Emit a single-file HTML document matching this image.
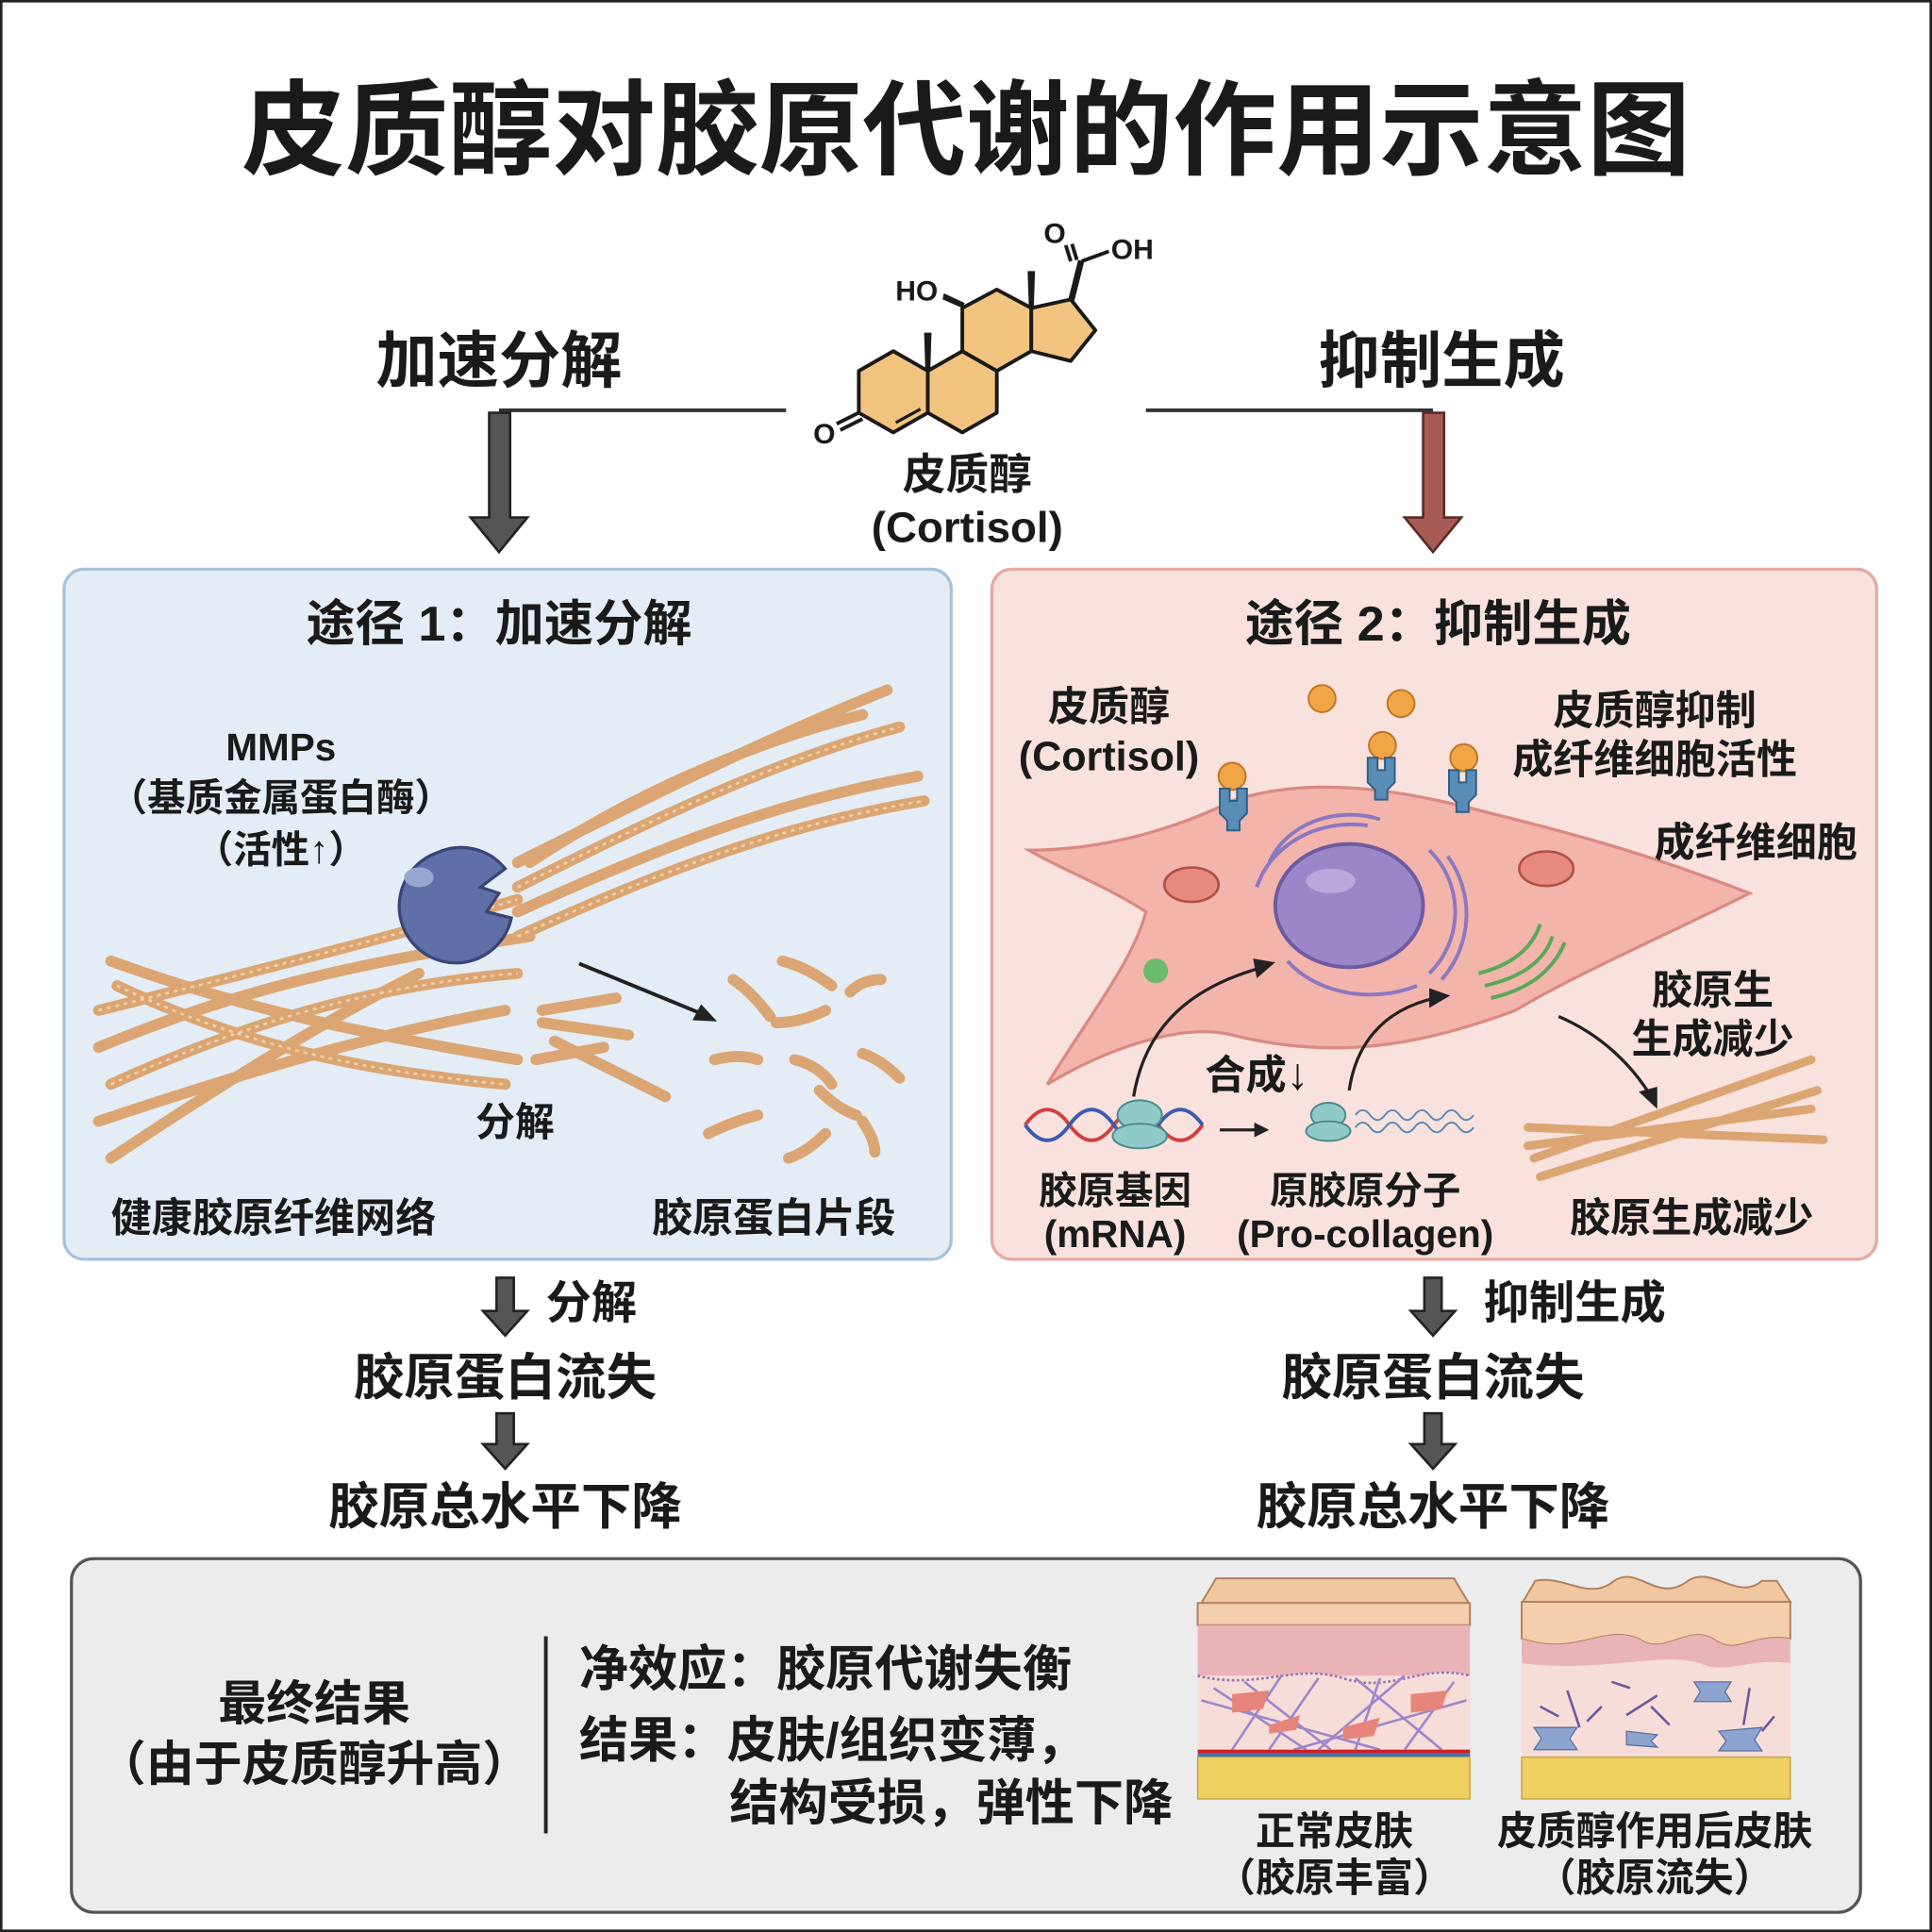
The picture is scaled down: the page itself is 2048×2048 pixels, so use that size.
<!DOCTYPE html>
<html><head><meta charset="utf-8"><style>
html,body{margin:0;padding:0;background:#fff}
svg{display:block}
text{font-family:"Liberation Sans","Noto Sans CJK SC",sans-serif;font-weight:bold;fill:#1a1a1a}
</style></head><body>
<svg width="2048" height="2048" viewBox="0 0 1568 1568" xmlns="http://www.w3.org/2000/svg">
<rect x="1" y="1" width="1566" height="1566" fill="#fff" stroke="#222" stroke-width="2"/>
<text x="784" y="135" font-size="84" text-anchor="middle">皮质醇对胶原代谢的作用示意图</text>

<!-- molecule -->
<g stroke="#1a1a1a" stroke-width="3" fill="#f3c47f" stroke-linejoin="round">
<polygon points="725,285 753,301 753,335 725,351 697,335 697,301"/>
<polygon points="781,285 809,301 809,335 781,351 753,335 753,301"/>
<polygon points="781,250 809,235 837,250 837,285 809,301 781,285"/>
<polygon points="837,250 869,243 889,268 869,293 837,285"/>
<line x1="697" y1="335" x2="679" y2="344"/><line x1="700" y1="340" x2="682" y2="349"/>
<line x1="727" y1="343" x2="747" y2="332" stroke-width="2.5"/>
<line x1="869" y1="212" x2="865" y2="199"/><line x1="874" y1="211" x2="870" y2="198"/>
<line x1="878" y1="212" x2="900" y2="204"/>
</g>
<g fill="#1a1a1a">
<polygon points="751,301 755,301 756,270 750,270"/>
<polygon points="835,250 839,250 840,220 834,220"/>
<polygon points="781,250 783,246 766,238 765,243"/>
<polygon points="867,243 872,244 880,212 875,211"/>
</g>
<text x="744" y="244" font-size="23" text-anchor="middle">HO</text>
<text x="856" y="197" font-size="23" text-anchor="middle">O</text>
<text x="919" y="210" font-size="23" text-anchor="middle">OH</text>
<text x="669" y="360" font-size="23" text-anchor="middle">O</text>
<text x="785" y="397" font-size="35" text-anchor="middle">皮质醇</text>
<text x="785" y="440" font-size="35" text-anchor="middle">(Cortisol)</text>

<text x="405" y="310" font-size="50" text-anchor="middle">加速分解</text>
<text x="1170" y="310" font-size="50" text-anchor="middle">抑制生成</text>
<path d="M638,333 H405" stroke="#333" stroke-width="3" fill="none"/>
<path d="M930,333 H1163" stroke="#333" stroke-width="3" fill="none"/>
<polygon points="397,335 414,335 414,420 428,420 405,448 382,420 397,420" fill="#555" stroke="#222" stroke-width="2"/>
<polygon points="1155,335 1172,335 1172,420 1186,420 1163,448 1140,420 1155,420" fill="#a85a55" stroke="#5a2a28" stroke-width="2"/>

<!-- left panel -->
<rect x="52" y="462" width="720" height="560" rx="16" fill="#e4edf6" stroke="#a8c2dc" stroke-width="2.5"/>
<text x="405" y="520" font-size="40" text-anchor="middle">途径 1：加速分解</text>
<g stroke="#dba673" stroke-width="9" fill="none" stroke-linecap="round">
<path d="M80,820 C200,790 320,760 420,730"/>
<path d="M80,850 C200,800 300,780 430,760"/>
<path d="M90,880 C200,830 300,800 420,790"/>
<path d="M80,910 C200,870 300,840 410,820"/>
<path d="M90,780 C200,820 300,840 420,860"/>
<path d="M95,800 C200,850 300,870 410,880"/>
<path d="M90,940 C180,880 260,830 340,790"/>
<path d="M420,700 C520,650 620,600 720,560"/>
<path d="M420,720 C520,670 620,620 730,590"/>
<path d="M420,740 C530,690 630,650 745,630"/>
<path d="M420,760 C530,710 630,670 750,650"/>
<path d="M430,700 C520,640 620,600 700,580"/>
<path d="M440,820 L500,810"/><path d="M440,830 L510,840"/>
<path d="M435,860 L490,850"/><path d="M450,845 L540,890"/>
</g>
<g stroke="#f2d2a8" stroke-width="2" fill="none" stroke-dasharray="3 4">
<path d="M80,820 C200,790 320,760 420,730"/><path d="M90,880 C200,830 300,800 420,790"/>
<path d="M95,800 C200,850 300,870 410,880"/><path d="M420,720 C520,670 620,620 730,590"/>
<path d="M420,760 C530,710 630,670 750,650"/>
</g>
<g stroke="#dba673" stroke-width="9" fill="none" stroke-linecap="round">
<path d="M595,795 q15,10 30,30"/><path d="M635,780 q20,5 40,20"/><path d="M690,805 q10,-10 25,-10"/>
<path d="M630,830 q20,0 40,-10"/><path d="M580,860 q20,-5 35,0"/><path d="M645,860 q20,5 30,20"/>
<path d="M700,855 q15,5 30,20"/><path d="M575,920 q20,-10 40,-15"/><path d="M665,885 q15,15 30,20"/>
<path d="M640,940 q15,-5 30,-20"/><path d="M700,910 q10,15 10,25"/>
</g>
<path d="M470,782 L575,825" stroke="#222" stroke-width="3"/>
<polygon points="582,829 562,828 569,815" fill="#222"/>
<path d="M355,692 A46,46 0 1,0 415,745 L395,740 L405,725 L390,720 L410,705 A46,46 0 0,0 355,692 Z" fill="#5f6fa8" stroke="#3a4575" stroke-width="2.5"/>
<ellipse cx="340" cy="712" rx="12" ry="8" fill="#9aa6d2"/>
<text x="228" y="617" font-size="31" text-anchor="middle">MMPs</text>
<text x="228" y="658" font-size="31" text-anchor="middle">（基质金属蛋白酶）</text>
<text x="228" y="700" font-size="31" text-anchor="middle">（活性↑）</text>
<text x="418" y="922" font-size="32" text-anchor="middle">分解</text>
<text x="222" y="1000" font-size="33" text-anchor="middle">健康胶原纤维网络</text>
<text x="628" y="1000" font-size="33" text-anchor="middle">胶原蛋白片段</text>

<!-- right panel -->
<rect x="805" y="462" width="718" height="560" rx="16" fill="#f9e2dd" stroke="#e6a9a3" stroke-width="2.5"/>
<text x="1167" y="520" font-size="40" text-anchor="middle">途径 2：抑制生成</text>
<path d="M835,690 C900,690 960,670 1000,650 C1060,630 1130,640 1190,655 C1270,675 1330,690 1420,725 C1350,760 1280,790 1230,820 C1150,850 1080,860 1000,840 C960,830 900,850 850,880 C880,830 920,780 930,740 C900,720 860,705 835,690 Z" fill="#f2b4ab" stroke="#d98a82" stroke-width="2.5"/>
<ellipse cx="1095" cy="735" rx="60" ry="50" fill="#9a86c9" stroke="#6e5aa2" stroke-width="3"/>
<ellipse cx="1080" cy="715" rx="20" ry="10" fill="#b9a9dc"/>
<g stroke="#8a78c0" stroke-width="3" fill="none">
<path d="M1020,720 A80,70 0 0,1 1110,670"/><path d="M1030,700 A70,60 0 0,1 1120,665"/>
<path d="M1160,690 A70,70 0 0,1 1160,790"/><path d="M1175,695 A80,80 0 0,1 1170,795"/>
<path d="M1045,780 A80,60 0 0,0 1150,800"/>
</g>
<ellipse cx="967" cy="718" rx="22" ry="14" fill="#e88a80" stroke="#b0504a" stroke-width="2"/>
<ellipse cx="1255" cy="705" rx="22" ry="14" fill="#e88a80" stroke="#b0504a" stroke-width="2"/>
<g stroke="#5aa85a" stroke-width="3" fill="none"><path d="M1200,790 q40,-10 50,-40"/><path d="M1205,800 q45,-10 55,-40"/><path d="M1210,810 q45,-10 60,-45"/></g>
<circle cx="938" cy="788" r="10" fill="#6cba6c"/>
<g fill="#f2a547" stroke="#c07520" stroke-width="1.5">
<circle cx="1073" cy="567" r="11"/><circle cx="1137" cy="571" r="11"/>
<circle cx="1000" cy="630" r="11"/><circle cx="1122" cy="605" r="11"/><circle cx="1188" cy="615" r="11"/>
</g>
<g fill="#5a8db5" stroke="#2e5e82" stroke-width="1.5">
<path d="M990,640 h8 v10 h6 v-10 h8 v20 l-6,6 v8 h-10 v-8 l-6,-6z"/>
<path d="M1110,615 h8 v10 h6 v-10 h8 v20 l-6,6 v8 h-10 v-8 l-6,-6z"/>
<path d="M1176,625 h8 v10 h6 v-10 h8 v20 l-6,6 v8 h-10 v-8 l-6,-6z"/>
</g>
<g stroke="#222" stroke-width="2.5" fill="none">
<path d="M920,890 C930,830 970,800 1025,785"/><path d="M1095,885 C1100,850 1120,820 1165,810"/>
<path d="M1265,825 C1300,840 1325,865 1340,890"/>
</g>
<polygon points="1035,781 1020,794 1017,778" fill="#222"/>
<polygon points="1177,808 1160,818 1160,802" fill="#222"/>
<polygon points="1345,900 1330,886 1345,882" fill="#222"/>
<g stroke-width="3" fill="none">
<path d="M832,913 q18,-25 36,0 t36,0 t36,0 t36,0" stroke="#d04040"/>
<path d="M832,913 q18,25 36,0 t36,0 t36,0 t36,0" stroke="#3a5ab0"/>
<path d="M1100,905 q6,-8 12,0 t12,0 t12,0 t12,0 t12,0 t12,0 t12,0 t12,0" stroke="#5a8ab5" stroke-width="1.5"/>
<path d="M1100,915 q6,-8 12,0 t12,0 t12,0 t12,0 t12,0 t12,0 t12,0 t12,0" stroke="#5a8ab5" stroke-width="1.5"/>
</g>
<ellipse cx="925" cy="905" rx="18" ry="12" fill="#8fcac8" stroke="#4a8a8a" stroke-width="1.5"/>
<ellipse cx="925" cy="922" rx="22" ry="10" fill="#8fcac8" stroke="#4a8a8a" stroke-width="1.5"/>
<ellipse cx="1078" cy="905" rx="14" ry="10" fill="#8fcac8" stroke="#4a8a8a" stroke-width="1.5"/>
<ellipse cx="1078" cy="918" rx="18" ry="8" fill="#8fcac8" stroke="#4a8a8a" stroke-width="1.5"/>
<path d="M990,917 H1020" stroke="#222" stroke-width="2.5"/><polygon points="1030,917 1018,911 1018,923" fill="#222"/>
<g stroke="#dba673" stroke-width="7" fill="none" stroke-linecap="round">
<path d="M1240,915 L1480,925"/><path d="M1245,940 L1470,860"/><path d="M1250,955 L1475,885"/><path d="M1240,930 L1470,900"/>
</g>
<text x="900" y="585" font-size="33" text-anchor="middle">皮质醇</text>
<text x="900" y="625" font-size="33" text-anchor="middle">(Cortisol)</text>
<text x="1343" y="588" font-size="33" text-anchor="middle">皮质醇抑制</text>
<text x="1343" y="628" font-size="33" text-anchor="middle">成纤维细胞活性</text>
<text x="1425" y="695" font-size="33" text-anchor="middle">成纤维细胞</text>
<text x="1390" y="815" font-size="33" text-anchor="middle">胶原生</text>
<text x="1390" y="855" font-size="33" text-anchor="middle">生成减少</text>
<text x="1020" y="884" font-size="33" text-anchor="middle">合成<tspan font-size="36">↓</tspan></text>
<text x="905" y="977" font-size="31" text-anchor="middle">胶原基因</text>
<text x="905" y="1012" font-size="31" text-anchor="middle">(mRNA)</text>
<text x="1108" y="977" font-size="31" text-anchor="middle">原胶原分子</text>
<text x="1108" y="1012" font-size="31" text-anchor="middle">(Pro-collagen)</text>
<text x="1373" y="1000" font-size="33" text-anchor="middle">胶原生成减少</text>

<!-- flows -->
<g fill="#555" stroke="#222" stroke-width="2">
<polygon points="403,1037 417,1037 417,1064 428,1064 410,1084 392,1064 403,1064"/>
<polygon points="403,1147 417,1147 417,1172 428,1172 410,1192 392,1172 403,1172"/>
<polygon points="1156,1037 1170,1037 1170,1064 1181,1064 1163,1084 1145,1064 1156,1064"/>
<polygon points="1156,1147 1170,1147 1170,1172 1181,1172 1163,1192 1145,1172 1156,1172"/>
</g>
<text x="480" y="1070" font-size="37" text-anchor="middle">分解</text>
<text x="1278" y="1070" font-size="37" text-anchor="middle">抑制生成</text>
<text x="410" y="1132" font-size="41" text-anchor="middle">胶原蛋白流失</text>
<text x="410" y="1237" font-size="41" text-anchor="middle">胶原总水平下降</text>
<text x="1163" y="1132" font-size="41" text-anchor="middle">胶原蛋白流失</text>
<text x="1163" y="1237" font-size="41" text-anchor="middle">胶原总水平下降</text>

<!-- bottom box -->
<rect x="58" y="1265" width="1452" height="287" rx="18" fill="#ececec" stroke="#555" stroke-width="2.5"/>
<text x="255" y="1396" font-size="39" text-anchor="middle">最终结果</text>
<text x="255" y="1445" font-size="39" text-anchor="middle">（由于皮质醇升高）</text>
<line x1="443" y1="1328" x2="443" y2="1488" stroke="#222" stroke-width="3"/>
<text x="470" y="1368" font-size="40">净效应：胶原代谢失衡</text>
<text x="470" y="1426" font-size="40">结果：皮肤/组织变薄，</text>
<text x="592" y="1477" font-size="40">结构受损，弹性下降</text>

<!-- normal skin -->
<polygon points="975,1301 987,1281 1180,1281 1192,1301" fill="#f0c7a0" stroke="#b08060" stroke-width="1.5"/>
<rect x="972" y="1301" width="221" height="18" fill="#f3cfae" stroke="#b08060" stroke-width="1.5"/>
<path d="M972,1319 H1193 V1360 C1150,1350 1130,1375 1090,1362 C1050,1350 1020,1372 972,1360Z" fill="#eab3b8"/>
<rect x="972" y="1360" width="221" height="62" fill="#f7ddd8"/>
<path d="M972,1360 C1020,1372 1050,1350 1090,1362 C1130,1375 1150,1350 1193,1360" stroke="#9a70b0" stroke-width="2" fill="none" stroke-dasharray="2 2"/>
<g stroke="#9d86cc" stroke-width="2" fill="none">
<path d="M985,1370 L1060,1420"/><path d="M1010,1365 L1080,1420"/><path d="M1040,1360 L1000,1420"/><path d="M1070,1362 L1030,1420"/>
<path d="M1100,1362 L1170,1420"/><path d="M1120,1362 L1100,1420"/><path d="M1140,1360 L1070,1420"/><path d="M1180,1365 L1140,1420"/>
<path d="M975,1380 L1120,1420"/><path d="M1190,1380 L1050,1420"/>
</g>
<g fill="#e7857a"><path d="M1000,1375 l30,-3 l-5,15 l-25,3z"/><path d="M1145,1375 l30,-3 l-5,15 l-25,3z"/><path d="M1090,1402 l30,-8 l-5,15 l-25,3z"/><path d="M1030,1400 l25,-8 l-3,12 l-22,3z"/></g>
<rect x="972" y="1420" width="221" height="3" fill="#d02020"/><rect x="972" y="1423" width="221" height="3" fill="#3a70c0"/>
<rect x="972" y="1426" width="221" height="34" fill="#f0d060" stroke="#c0a040" stroke-width="1"/>
<!-- damaged skin -->
<path d="M1236,1300 L1246,1283 C1270,1278 1290,1300 1310,1283 C1330,1270 1345,1302 1370,1283 C1390,1270 1410,1300 1430,1283 L1442,1283 L1453,1300 Z" fill="#f0c7a0" stroke="#b08060" stroke-width="1.5"/>
<path d="M1235,1300 H1453 V1330 C1420,1325 1410,1345 1390,1330 C1370,1318 1350,1345 1330,1330 C1300,1318 1280,1345 1235,1330Z" fill="#f3cfae" stroke="#b08060" stroke-width="1.5"/>
<path d="M1235,1330 C1280,1345 1300,1318 1330,1330 C1350,1345 1370,1318 1390,1330 C1410,1345 1420,1325 1453,1330 V1350 C1420,1345 1400,1360 1380,1350 C1350,1340 1300,1358 1235,1350Z" fill="#eab3b8"/>
<path d="M1235,1350 C1300,1358 1350,1340 1380,1350 C1400,1360 1420,1345 1453,1350 V1430 H1235Z" fill="#f7ddd8"/>
<g stroke="#6a5aa0" stroke-width="2" fill="none"><path d="M1250,1385 l15,8"/><path d="M1272,1372 l10,30"/><path d="M1300,1385 l-12,12"/><path d="M1320,1392 l25,-16"/><path d="M1340,1385 l15,15"/><path d="M1420,1370 l-5,30"/><path d="M1430,1405 l10,-12"/><path d="M1308,1365 l15,5"/></g>
<g fill="#8da4d0" stroke="#5a70a0" stroke-width="1"><path d="M1375,1365 l30,0 l-5,8 l5,8 l-30,0 l5,-8z"/><path d="M1245,1402 l35,0 l-6,9 l6,9 l-35,0 l6,-9z"/><path d="M1320,1405 l25,3 l-5,5 l5,5 l-25,-2z"/><path d="M1395,1405 l35,-3 l-6,10 l6,9 l-35,0 l6,-8z"/></g>
<rect x="1235" y="1426" width="218" height="34" fill="#f0d060" stroke="#c0a040" stroke-width="1"/>
<text x="1083" y="1497" font-size="32" text-anchor="middle">正常皮肤</text>
<text x="1083" y="1535" font-size="32" text-anchor="middle">（胶原丰富）</text>
<text x="1343" y="1497" font-size="32" text-anchor="middle">皮质醇作用后皮肤</text>
<text x="1343" y="1535" font-size="32" text-anchor="middle">（胶原流失）</text>
</svg>
</body></html>
